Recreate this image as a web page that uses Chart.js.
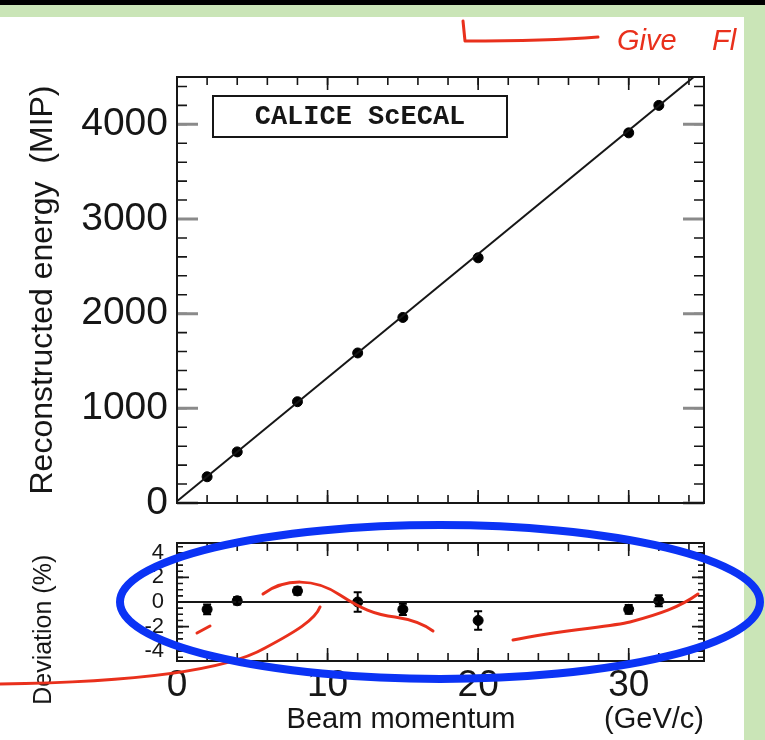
<!DOCTYPE html>
<html>
<head>
<meta charset="utf-8">
<script src="https://cdn.jsdelivr.net/npm/chart.js@4"></script>
<style>
  html, body { margin: 0; padding: 0; background: #fff; }
  #page { position: relative; width: 765px; height: 740px; overflow: hidden; background: #fff; }
  #topbar { position: absolute; left: 0; top: 0; width: 765px; height: 5px; background: #000; }
  #topband { position: absolute; left: 0; top: 5px; width: 765px; height: 12px; background: #cae5b7; }
  #rightband { position: absolute; left: 744px; top: 5px; width: 21px; height: 735px; background: #cae5b7; }
  canvas { position: absolute; left: 0; top: 0; }
  #notes { pointer-events: none; }
</style>
</head>
<body>
<div id="page">
  <div id="topbar"></div>
  <div id="topband"></div>
  <div id="rightband"></div>
  <canvas id="energyChart" width="765" height="740"></canvas>
  <canvas id="devChart" width="765" height="740"></canvas>
  <canvas id="notes" width="765" height="740"></canvas>
</div>
<script>
// data
const momentum = [2, 4, 8, 12, 15, 20, 30, 32];
const energy = [277, 540, 1070, 1585, 1960, 2590, 3910, 4200];
const deviation = [-0.6, 0.1, 0.9, 0.0, -0.6, -1.5, -0.6, 0.1];
const deviationErr = [0.4, 0.3, 0.3, 0.8, 0.45, 0.75, 0.35, 0.45];
const fitX = [0, 35];
const fitY = [18, 4589];
const zeroX = [0, 35];
const zeroY = [0, 0];
const energyTicks = [0, 1000, 2000, 3000, 4000];
const deviationTicks = [-4, -2, 0, 2, 4];
const momentumTicks = [0, 10, 20, 30];

const FONT = "'Liberation Sans', Arial, sans-serif";
const INK = '#161616';

// frame box + inward tick marks on all four sides
const frameTicks = {
  id: 'frameTicks',
  afterDatasetsDraw(chart, args, o) {
    const ctx = chart.ctx;
    const a = chart.chartArea;
    function marks(scale, step, len, color, width, horiz) {
      const n0 = Math.ceil(scale.min / step - 1e-9);
      const n1 = Math.floor(scale.max / step + 1e-9);
      ctx.strokeStyle = color;
      ctx.lineWidth = width;
      ctx.beginPath();
      for (let n = n0; n <= n1; n++) {
        const p = scale.getPixelForValue(n * step);
        if (horiz) {
          ctx.moveTo(p, a.bottom); ctx.lineTo(p, a.bottom - len);
          ctx.moveTo(p, a.top); ctx.lineTo(p, a.top + len);
        } else {
          ctx.moveTo(a.left, p); ctx.lineTo(a.left + len, p);
          ctx.moveTo(a.right, p); ctx.lineTo(a.right - len, p);
        }
      }
      ctx.stroke();
    }
    ctx.save();
    marks(chart.scales.x, 2, 8, INK, 1.6, true);
    marks(chart.scales.x, 10, 13, INK, 1.6, true);
    marks(chart.scales.y, o.yMinor, o.yMinorLen, INK, 1.6, false);
    marks(chart.scales.y, o.yMajor, o.yMajorLen, o.yMajorColor, o.yMajorWidth, false);
    ctx.strokeStyle = INK;
    ctx.lineWidth = 2;
    ctx.strokeRect(a.left, a.top, a.right - a.left, a.bottom - a.top);
    ctx.restore();
  }
};

// vertical error bars with caps
const errorBars = {
  id: 'errorBars',
  afterDatasetsDraw(chart) {
    const ctx = chart.ctx;
    const ys = chart.scales.y;
    chart.data.datasets.forEach((ds, i) => {
      if (!ds.errorBars) return;
      const meta = chart.getDatasetMeta(i);
      ctx.save();
      ctx.strokeStyle = '#000';
      ctx.lineWidth = 2;
      meta.data.forEach((pt, j) => {
        const v = ds.data[j].y;
        const e = ds.errorBars[j];
        const y1 = ys.getPixelForValue(v - e);
        const y2 = ys.getPixelForValue(v + e);
        ctx.beginPath();
        ctx.moveTo(pt.x, y1); ctx.lineTo(pt.x, y2);
        ctx.moveTo(pt.x - 4, y1); ctx.lineTo(pt.x + 4, y1);
        ctx.moveTo(pt.x - 4, y2); ctx.lineTo(pt.x + 4, y2);
        ctx.stroke();
      });
      ctx.restore();
    });
  }
};

// "CALICE ScECAL" label box
const labelBox = {
  id: 'labelBox',
  afterDraw(chart) {
    const ctx = chart.ctx;
    const a = chart.chartArea;
    const x = a.left + 36, y = a.top + 19, w = 294, h = 41;
    ctx.save();
    ctx.fillStyle = '#fff';
    ctx.fillRect(x, y, w, h);
    ctx.strokeStyle = INK;
    ctx.lineWidth = 2;
    ctx.strokeRect(x, y, w, h);
    ctx.fillStyle = INK;
    ctx.font = "bold 27px 'Liberation Mono', 'DejaVu Sans Mono', monospace";
    ctx.textAlign = 'center';
    ctx.textBaseline = 'middle';
    ctx.fillText('CALICE ScECAL', x + w / 2, y + h / 2 + 1);
    ctx.restore();
  }
};

function pts(xs, ys) {
  return xs.map((x, i) => ({ x: x, y: ys[i] }));
}

const plain = v => String(v);

new Chart(document.getElementById('energyChart'), {
  type: 'scatter',
  data: {
    datasets: [
      {
        data: pts(fitX, fitY),
        showLine: true,
        borderColor: INK,
        borderWidth: 2,
        pointRadius: 0
      },
      {
        data: pts(momentum, energy),
        backgroundColor: '#000',
        borderColor: '#000',
        pointRadius: 5
      }
    ]
  },
  options: {
    responsive: false,
    animation: false,
    events: [],
    layout: { padding: { top: 77, right: 61, bottom: 237, left: 0 } },
    plugins: {
      legend: { display: false },
      tooltip: { enabled: false },
      frameTicks: { yMinor: 200, yMinorLen: 10, yMajor: 1000, yMajorLen: 21, yMajorColor: '#8a8a8a', yMajorWidth: 3 }
    },
    scales: {
      x: { type: 'linear', min: 0, max: 35, display: false },
      y: {
        type: 'linear',
        min: 0,
        max: 4500,
        afterBuildTicks: s => { s.ticks = energyTicks.map(v => ({ value: v })); },
        afterFit: s => { s.width = 177; },
        grid: { display: false, drawTicks: false },
        border: { display: false },
        ticks: { font: { family: FONT, size: 39 }, color: INK, padding: 9, callback: plain },
        title: {
          display: true,
          text: 'Reconstructed energy  (MIP)',
          font: { family: FONT, size: 32 },
          color: INK,
          padding: { top: 24, bottom: 0 }
        }
      }
    }
  },
  plugins: [frameTicks, labelBox]
});

new Chart(document.getElementById('devChart'), {
  type: 'scatter',
  data: {
    datasets: [
      {
        data: pts(zeroX, zeroY),
        showLine: true,
        borderColor: INK,
        borderWidth: 2,
        pointRadius: 0
      },
      {
        data: pts(momentum, deviation),
        errorBars: deviationErr,
        backgroundColor: '#000',
        borderColor: '#000',
        pointRadius: 5
      }
    ]
  },
  options: {
    responsive: false,
    animation: false,
    events: [],
    layout: { padding: { top: 543, right: 61, bottom: 0, left: 0 } },
    plugins: {
      legend: { display: false },
      tooltip: { enabled: false },
      frameTicks: { yMinor: 0.5, yMinorLen: 6, yMajor: 2, yMajorLen: 12, yMajorColor: INK, yMajorWidth: 1.6 }
    },
    scales: {
      x: {
        type: 'linear',
        min: 0,
        max: 35,
        afterBuildTicks: s => { s.ticks = momentumTicks.map(v => ({ value: v })); },
        afterFit: s => { s.height = 79; },
        grid: { display: false, drawTicks: false },
        border: { display: false },
        ticks: { font: { family: FONT, size: 37 }, color: INK, padding: 3, maxRotation: 0, callback: plain },
        title: {
          display: true,
          text: 'Beam momentum           (GeV/c)',
          align: 'end',
          font: { family: FONT, size: 29 },
          color: INK,
          padding: { top: 0, bottom: 3 }
        }
      },
      y: {
        type: 'linear',
        min: -4.8,
        max: 4.8,
        afterBuildTicks: s => { s.ticks = deviationTicks.map(v => ({ value: v })); },
        afterFit: s => { s.width = 177; },
        grid: { display: false, drawTicks: false },
        border: { display: false },
        ticks: { font: { family: FONT, size: 22 }, color: INK, padding: 13, callback: plain },
        title: {
          display: true,
          text: 'Deviation (%)        ',
          font: { family: FONT, size: 25 },
          color: INK,
          padding: { top: 29, bottom: 0 }
        }
      }
    }
  },
  plugins: [frameTicks, errorBars]
});

// hand-drawn annotations on the slide
const nctx = document.getElementById('notes').getContext('2d');
nctx.lineCap = 'round';
nctx.lineJoin = 'round';

nctx.strokeStyle = '#e9301c';
nctx.lineWidth = 3;
nctx.beginPath();
nctx.moveTo(463, 21);
nctx.lineTo(465, 41);
nctx.bezierCurveTo(510, 41, 560, 40, 598, 37);
nctx.stroke();

nctx.fillStyle = '#e9301c';
nctx.font = "italic 29px 'Liberation Sans', sans-serif";
nctx.fillText('Give', 617, 50);
nctx.fillText('Fl', 712, 50);

nctx.lineWidth = 3;
nctx.beginPath();
nctx.moveTo(0, 684);
nctx.bezierCurveTo(150, 682, 230, 668, 265, 648);
nctx.bezierCurveTo(295, 632, 315, 620, 320, 607);
nctx.stroke();

nctx.beginPath();
nctx.moveTo(263, 594);
nctx.bezierCurveTo(285, 578, 315, 578, 340, 595);
nctx.bezierCurveTo(360, 608, 375, 615, 395, 617);
nctx.bezierCurveTo(415, 620, 425, 625, 433, 631);
nctx.stroke();

nctx.beginPath();
nctx.moveTo(197, 633);
nctx.lineTo(210, 626);
nctx.stroke();

nctx.beginPath();
nctx.moveTo(513, 640);
nctx.bezierCurveTo(560, 630, 610, 627, 630, 622);
nctx.bezierCurveTo(660, 614, 680, 607, 698, 594);
nctx.stroke();

nctx.strokeStyle = '#0b33f5';
nctx.lineWidth = 8;
nctx.beginPath();
nctx.ellipse(440, 602, 320, 77, 0, 0, Math.PI * 2);
nctx.stroke();
</script>
</body>
</html>
